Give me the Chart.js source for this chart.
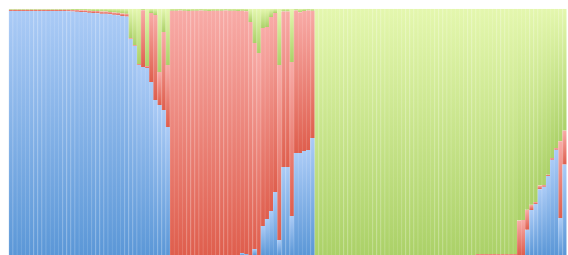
<!DOCTYPE html>
<html>
<head>
<meta charset="utf-8">
<script src="https://cdn.jsdelivr.net/npm/chart.js@4"></script>
<style>
  html, body { margin: 0; padding: 0; background: #ffffff; }
  canvas { display: block; }
</style>
</head>
<body>
<canvas id="myChart" width="568" height="255"></canvas>
<script>
// share of each column, percent (blue bottom, red middle, green top)
const blueVals = [
  99.1, 99.1, 99.1, 99.1, 99.1, 99.1, 99.1, 99.1, 99.1, 99.1,
  99.1, 99.1, 99.1, 99.1, 99.0, 98.9, 98.8, 98.7, 98.6, 98.4,
  98.3, 98.2, 98.0, 97.9, 97.7, 97.5, 97.3, 97.0, 96.8, 87.7,
  84.9, 77.1, 76.3, 75.9, 70.2, 62.9, 60.9, 58.9, 52.0, 0,
  0, 0, 0, 0, 0, 0, 0, 0, 0, 0,
  0, 0, 0, 0, 0, 0, 0.8, 0.4, 0, 2.4,
  0, 11.8, 14.6, 17.9, 25.6, 6.1, 35.7, 35.7, 15.8, 41.4,
  41.4, 42.2, 42.6, 47.5, 0, 0, 0, 0, 0, 0,
  0, 0, 0, 0, 0, 0, 0, 0, 0, 0,
  0, 0, 0, 0, 0, 0, 0, 0, 0, 0,
  0, 0, 0, 0, 0, 0, 0, 0, 0, 0,
  0, 0, 0, 0, 0, 0, 0, 0, 0, 0,
  0, 0, 0, 0, 0, 10.3, 18.3, 20.7, 26.7, 27.7,
  32.1, 38.7, 42.7, 15.0, 36.7
];
const redVals = [
  0.5, 0.5, 0.5, 0.5, 0.5, 0.5, 0.5, 0.5, 0.5, 0.5,
  0.5, 0.5, 0.5, 0.5, 0.6, 0.6, 0.7, 0.7, 0.8, 0.8,
  0.8, 0.9, 0.9, 1.0, 1.0, 1.0, 1.1, 1.1, 1.1, 0.3,
  0.3, 0.4, 23.1, 0.8, 28.1, 34.5, 13.4, 31.6, 25.1, 99.2,
  99.2, 99.3, 99.2, 99.1, 99.2, 99.2, 99.3, 99.2, 99.1, 99.2,
  99.2, 99.2, 99.3, 99.2, 99.2, 99.1, 98.4, 98.6, 94.6, 83.7,
  82.0, 80.4, 78.0, 78.7, 72.7, 71.0, 63.2, 63.2, 62.6, 57.9,
  57.2, 56.9, 56.7, 51.7, 0, 0, 0, 0, 0, 0,
  0, 0, 0, 0, 0, 0, 0, 0, 0, 0,
  0, 0, 0, 0, 0, 0, 0, 0, 0, 0,
  0, 0, 0, 0, 0, 0, 0, 0, 0, 0,
  0, 0, 0, 0.4, 0.4, 0.4, 0.4, 0.4, 0.4, 0.4,
  0.4, 0.4, 0.4, 14.0, 14.2, 8.1, 2.1, 0.8, 1.5, 0.7,
  0.5, 0.7, 0.7, 31.2, 13.8
];
const greenVals = [
  0.4, 0.4, 0.4, 0.4, 0.4, 0.4, 0.4, 0.4, 0.4, 0.4,
  0.4, 0.4, 0.4, 0.4, 0.4, 0.5, 0.5, 0.6, 0.6, 0.8,
  0.9, 0.9, 1.1, 1.1, 1.3, 1.5, 1.6, 1.9, 2.1, 12.0,
  14.8, 22.5, 0.6, 23.3, 1.7, 2.6, 25.7, 9.5, 22.9, 0.8,
  0.8, 0.7, 0.8, 0.9, 0.8, 0.8, 0.7, 0.8, 0.9, 0.8,
  0.8, 0.8, 0.7, 0.8, 0.8, 0.9, 0.8, 1.0, 5.4, 13.9,
  18.0, 7.8, 7.4, 3.4, 1.7, 22.9, 1.1, 1.1, 21.6, 0.7,
  1.4, 0.9, 0.7, 0.8, 100, 100, 100, 100, 100, 100,
  100, 100, 100, 100, 100, 100, 100, 100, 100, 100,
  100, 100, 100, 100, 100, 100, 100, 100, 100, 100,
  100, 100, 100, 100, 100, 100, 100, 100, 100, 100,
  100, 100, 100, 99.6, 99.6, 99.6, 99.6, 99.6, 99.6, 99.6,
  99.6, 99.6, 99.6, 86.0, 85.8, 81.6, 79.6, 78.5, 71.8, 71.6,
  67.4, 60.6, 56.6, 53.8, 49.5
];
const labels = blueVals.map((v, i) => String(i + 1));

// light at the top of each segment, darker at its foot
const blueTone = ['#abcbf6', '#5b97d7'];
const redTone = ['#f8aba7', '#df5e4d'];
const greenTone = ['#e4f7ae', '#abd168'];

function mix(hex, amt) {
  const n = parseInt(hex.slice(1), 16);
  const r = (n >> 16) & 255, g = (n >> 8) & 255, b = n & 255;
  const f = c => Math.round(c + (255 - c) * amt);
  return 'rgb(' + f(r) + ',' + f(g) + ',' + f(b) + ')';
}

function paint(tone, lighten) {
  return function (c) {
    const chart = c.chart;
    const top = lighten ? mix(tone[0], lighten) : tone[0];
    const bot = lighten ? mix(tone[1], lighten) : tone[1];
    if (c.type !== 'data' || !chart.chartArea || !chart.scales.y) return bot;
    const sets = chart.data.datasets;
    let start = 0;
    for (let k = 0; k < c.datasetIndex; k++) start += sets[k].data[c.dataIndex];
    const end = start + sets[c.datasetIndex].data[c.dataIndex];
    const y0 = chart.scales.y.getPixelForValue(end);
    const y1 = chart.scales.y.getPixelForValue(start);
    if (!isFinite(y0) || !isFinite(y1) || y1 - y0 < 0.5) return top;
    const g = chart.ctx.createLinearGradient(0, y0, 0, y1);
    g.addColorStop(0, top);
    g.addColorStop(1, bot);
    return g;
  };
}

function series(label, vals, tone) {
  return {
    label: label,
    data: vals,
    backgroundColor: paint(tone, 0),
    borderColor: paint(tone, 0.14),
    borderWidth: { left: 1, right: 0, top: 0, bottom: 0 },
    borderSkipped: false,
    barPercentage: 1,
    categoryPercentage: 1,
  };
}

const ctx = document.getElementById('myChart');

new Chart(ctx, {
  type: 'bar',
  data: {
    labels: labels,
    datasets: [
      series('Blue', blueVals, blueTone),
      series('Red', redVals, redTone),
      series('Green', greenVals, greenTone),
    ],
  },
  options: {
    responsive: false,
    animation: false,
    layout: { padding: { left: 8.7, right: 1.3, top: 8.7, bottom: 0 } },
    scales: {
      x: { stacked: true, display: false },
      y: { stacked: true, display: false, min: 0, max: 100 },
    },
    plugins: {
      legend: { display: false },
      tooltip: { enabled: false },
      title: { display: false },
    },
  },
});
</script>
</body>
</html>
